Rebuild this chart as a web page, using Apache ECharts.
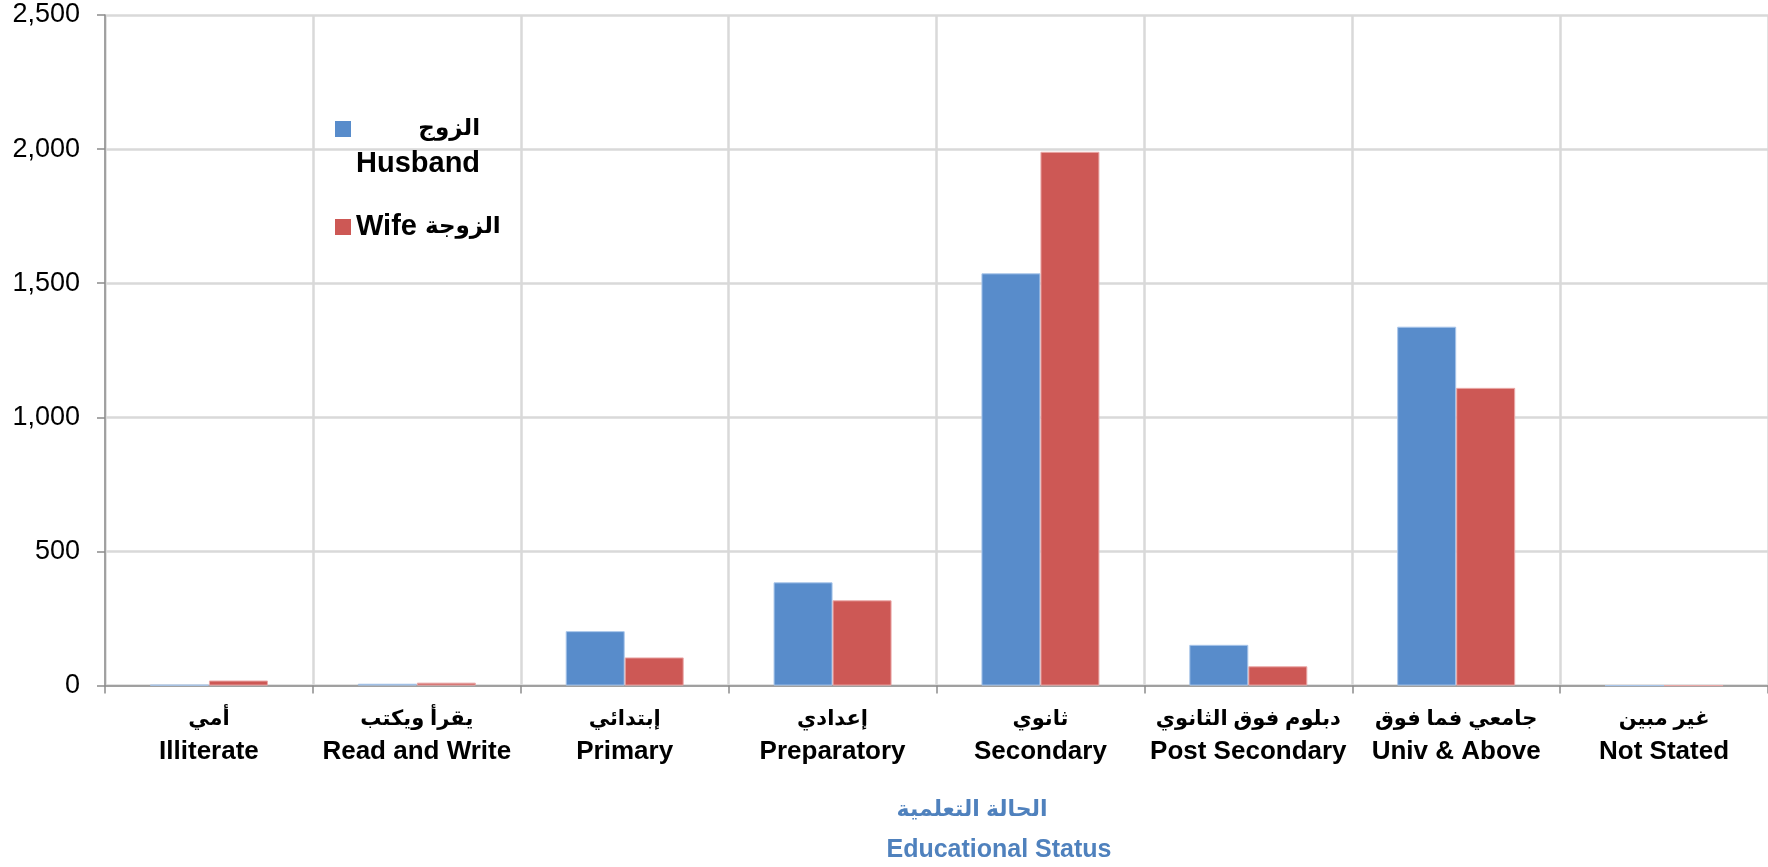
<!DOCTYPE html>
<html>
<head>
<meta charset="utf-8">
<script src="https://cdn.jsdelivr.net/npm/echarts@6/dist/echarts.min.js"></script>
<style>html,body{margin:0;padding:0;background:#fff;}#c{width:1768px;height:867px;}</style>
</head>
<body>
<div id="c"></div>
<script>
const categoriesAr = ['أمي', 'يقرأ ويكتب', 'إبتدائي', 'إعدادي', 'ثانوي', 'دبلوم فوق الثانوي', 'جامعي فما فوق', 'غير مبين'];
const categoriesEn = ['Illiterate', 'Read and Write', 'Primary', 'Preparatory', 'Secondary', 'Post Secondary', 'Univ & Above', 'Not Stated'];
const husband = [3, 7, 203, 385, 1537, 152, 1338, 0];
const wife = [19, 11, 105, 318, 1990, 72, 1110, 0];
const yTicks = { min: 0, max: 2500, interval: 500 };
const titleAr = 'الحالة التعلمية';
const titleEn = 'Educational Status';

const FONT = '"Liberation Sans", Arial, "DejaVu Sans", sans-serif';
const categories = categoriesEn.map((en, i) => categoriesAr[i] + '\n' + en);

const chart = echarts.init(document.getElementById('c'), null, { renderer: 'canvas' });
chart.setOption({
  animation: false,
  backgroundColor: '#ffffff',
  title: [
    { text: titleAr, left: 972, top: 799, textAlign: 'center', padding: 0,
      textStyle: { color: '#4F81BD', fontSize: 22, fontWeight: 'bold', fontFamily: FONT } },
    { text: titleEn, left: 999, top: 838, textAlign: 'center', padding: 0,
      textStyle: { color: '#4F81BD', fontSize: 25, fontWeight: 'bold', fontFamily: FONT } }
  ],
  legend: {
    orient: 'vertical',
    left: 335,
    top: 111,
    padding: 0,
    itemGap: 21,
    itemWidth: 16,
    itemHeight: 50,
    itemStyle: { borderWidth: 0 },
    data: [
      { name: 'Husband', icon: 'path://M0,0L16,0L16,16L0,16Z M0,50L0.01,50L0.01,50.01Z' },
      { name: 'Wife', icon: 'path://M0,17L16,17L16,33L0,33Z M0,0L0.01,0L0.01,0.01Z M0,50L0.01,50L0.01,50.01Z' }
    ],
    formatter: function (name) {
      if (name === 'Husband') return '{ra|الزوج}\n{r|Husband}';
      return '{l|Wife }{la|الزوجة}';
    },
    textStyle: {
      color: '#000', fontSize: 29, fontWeight: 'bold', fontFamily: FONT, lineHeight: 35,
      rich: {
        ra: { align: 'right', color: '#000', fontSize: 23, fontWeight: 'bold', fontFamily: FONT, lineHeight: 35 },
        r: { align: 'right', color: '#000', fontSize: 29, fontWeight: 'bold', fontFamily: FONT, lineHeight: 35 },
        l: { color: '#000', fontSize: 29, fontWeight: 'bold', fontFamily: FONT, lineHeight: 35 },
        la: { color: '#000', fontSize: 23, fontWeight: 'bold', fontFamily: FONT, lineHeight: 35 }
      }
    }
  },
  grid: { left: 105, right: 0, top: 15, bottom: 867 - 685.6, containLabel: false },
  xAxis: {
    type: 'category',
    data: categories,
    axisLine: { show: true, lineStyle: { color: '#8C8C8C', width: 1.5 } },
    axisTick: { show: true, alignWithLabel: false, length: 8, lineStyle: { color: '#8C8C8C', width: 1.5 } },
    splitLine: { show: true, lineStyle: { color: '#D9D9D9', width: 2.5 } },
    axisLabel: {
      interval: 0,
      margin: 17,
      formatter: function (v) {
        const p = v.split('\n');
        return '{ar|' + p[0] + '}\n{en|' + p[1] + '}';
      },
      rich: {
        ar: { fontSize: 21, fontWeight: 'bold', color: '#000', fontFamily: FONT, lineHeight: 33 },
        en: { fontSize: 26, fontWeight: 'bold', color: '#000', fontFamily: FONT, lineHeight: 33 }
      }
    }
  },
  yAxis: {
    type: 'value',
    min: yTicks.min,
    max: yTicks.max,
    interval: yTicks.interval,
    axisLine: { show: true, lineStyle: { color: '#8C8C8C', width: 1.5 } },
    axisTick: { show: true, length: 8, lineStyle: { color: '#8C8C8C', width: 1.5 } },
    splitLine: { show: true, lineStyle: { color: '#D9D9D9', width: 2.5 } },
    axisLabel: {
      margin: 25,
      color: '#000',
      fontSize: 27,
      fontFamily: FONT,
      formatter: function (v) { return v.toLocaleString('en-US'); }
    }
  },
  series: [
    {
      name: 'Husband', type: 'bar', data: husband,
      barWidth: 59, barGap: '0%',
      itemStyle: { color: '#588CCB', borderColor: '#A9C6EA', borderWidth: 1 }
    },
    {
      name: 'Wife', type: 'bar', data: wife,
      barWidth: 59, barGap: '0%',
      itemStyle: { color: '#CD5855', borderColor: '#EAA9A8', borderWidth: 1 }
    }
  ]
});
</script>
</body>
</html>
